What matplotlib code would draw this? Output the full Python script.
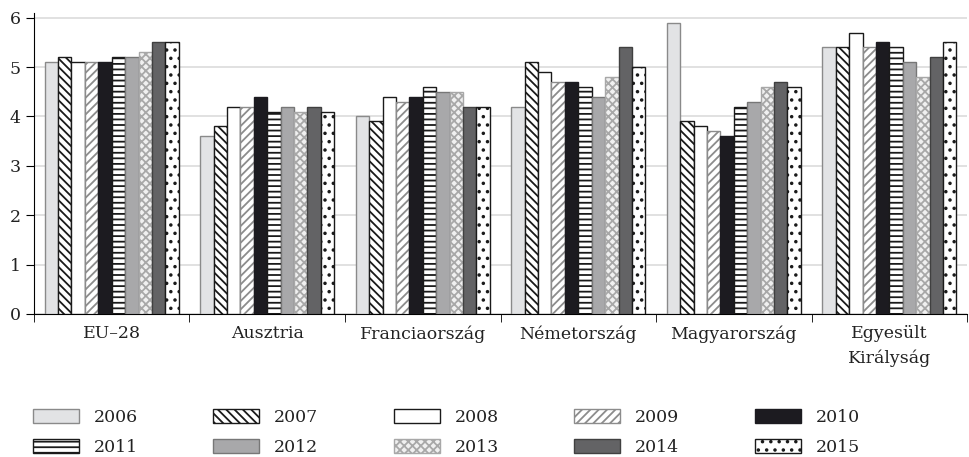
import numpy as np
import matplotlib
matplotlib.use("Agg")
from matplotlib import pyplot as plt
from matplotlib.patches import Patch

plt.rcParams['font.family'] = ['DejaVu Serif']
plt.rcParams['font.size'] = 12.5
plt.rcParams['hatch.linewidth'] = 1.3

countries = ['EU–28', 'Ausztria', 'Franciaország', 'Németország',
             'Magyarország', 'Egyesült\nKirályság']
years = ['2006', '2007', '2008', '2009', '2010',
         '2011', '2012', '2013', '2014', '2015']

v2006 = [5.1, 3.6, 4.0, 4.2, 5.9, 5.4]
v2007 = [5.2, 3.8, 3.9, 5.1, 3.9, 5.4]
v2008 = [5.1, 4.2, 4.4, 4.9, 3.8, 5.7]
v2009 = [5.1, 4.2, 4.3, 4.7, 3.7, 5.4]
v2010 = [5.1, 4.4, 4.4, 4.7, 3.6, 5.5]
v2011 = [5.2, 4.1, 4.6, 4.6, 4.2, 5.4]
v2012 = [5.2, 4.2, 4.5, 4.4, 4.3, 5.1]
v2013 = [5.3, 4.1, 4.5, 4.8, 4.6, 4.8]
v2014 = [5.5, 4.2, 4.2, 5.4, 4.7, 5.2]
v2015 = [5.5, 4.1, 4.2, 5.0, 4.6, 5.5]
values = [v2006, v2007, v2008, v2009, v2010, v2011, v2012, v2013, v2014, v2015]

# fill, edge, hatch
styles = [
    ('#e2e3e5', '#8a8a8a', None),
    ('white', '#1a1a1a', '\\\\\\\\'),
    ('white', '#1a1a1a', None),
    ('white', '#8c8c8c', '////'),
    ('#1c1b20', '#1c1b20', None),
    ('white', '#1a1a1a', '---'),
    ('#a8a8aa', '#777777', None),
    ('#f0f0f0', '#a8a8a8', 'xxxx'),
    ('#636365', '#404040', None),
    ('white', '#1a1a1a', '..'),
]

fig = plt.figure(figsize=(9.7, 4.57), dpi=100)
ax = fig.add_axes([0.035, 0.313, 0.962, 0.659])

x = np.arange(len(countries)) + 0.5
w = 0.0862
handles = []
for i, (yr, vals) in enumerate(zip(years, values)):
    fc, ec, h = styles[i]
    ax.bar(x + (i - 4.5) * w, vals, w, color=fc, edgecolor=ec, hatch=h,
           linewidth=1.0, zorder=3)
    handles.append(Patch(facecolor=fc, edgecolor=ec, hatch=h, linewidth=1.0))

ax.set_xlim(0, 6)
ax.set_ylim(0, 6.1)
ax.set_yticks(range(7))
ax.set_xticks(x)
ax.set_xticklabels(countries, color='#222222', linespacing=1.55, va='top')
ax.set_xticks(np.arange(7), minor=True)
ax.tick_params(axis='x', which='major', length=0, pad=8)
ax.tick_params(axis='x', which='minor', length=6, direction='out')
ax.tick_params(axis='y', length=6, direction='out', labelcolor='#222222')
ax.grid(axis='y', color='#dcdcdc', linewidth=1.2, zorder=0)
ax.spines['top'].set_visible(False)
ax.spines['right'].set_visible(False)

# legend filled row by row
order = [0, 5, 1, 6, 2, 7, 3, 8, 4, 9]
fig.legend([handles[k] for k in order], [years[k] for k in order],
           ncol=5, loc='upper left', bbox_to_anchor=(0.034, 0.105),
           frameon=False, handlelength=2.65, handleheight=0.8,
           handletextpad=0.85, columnspacing=4.35, labelspacing=0.75,
           borderpad=0, borderaxespad=0, labelcolor='#222222')

plt.savefig('out.png', dpi=100)
